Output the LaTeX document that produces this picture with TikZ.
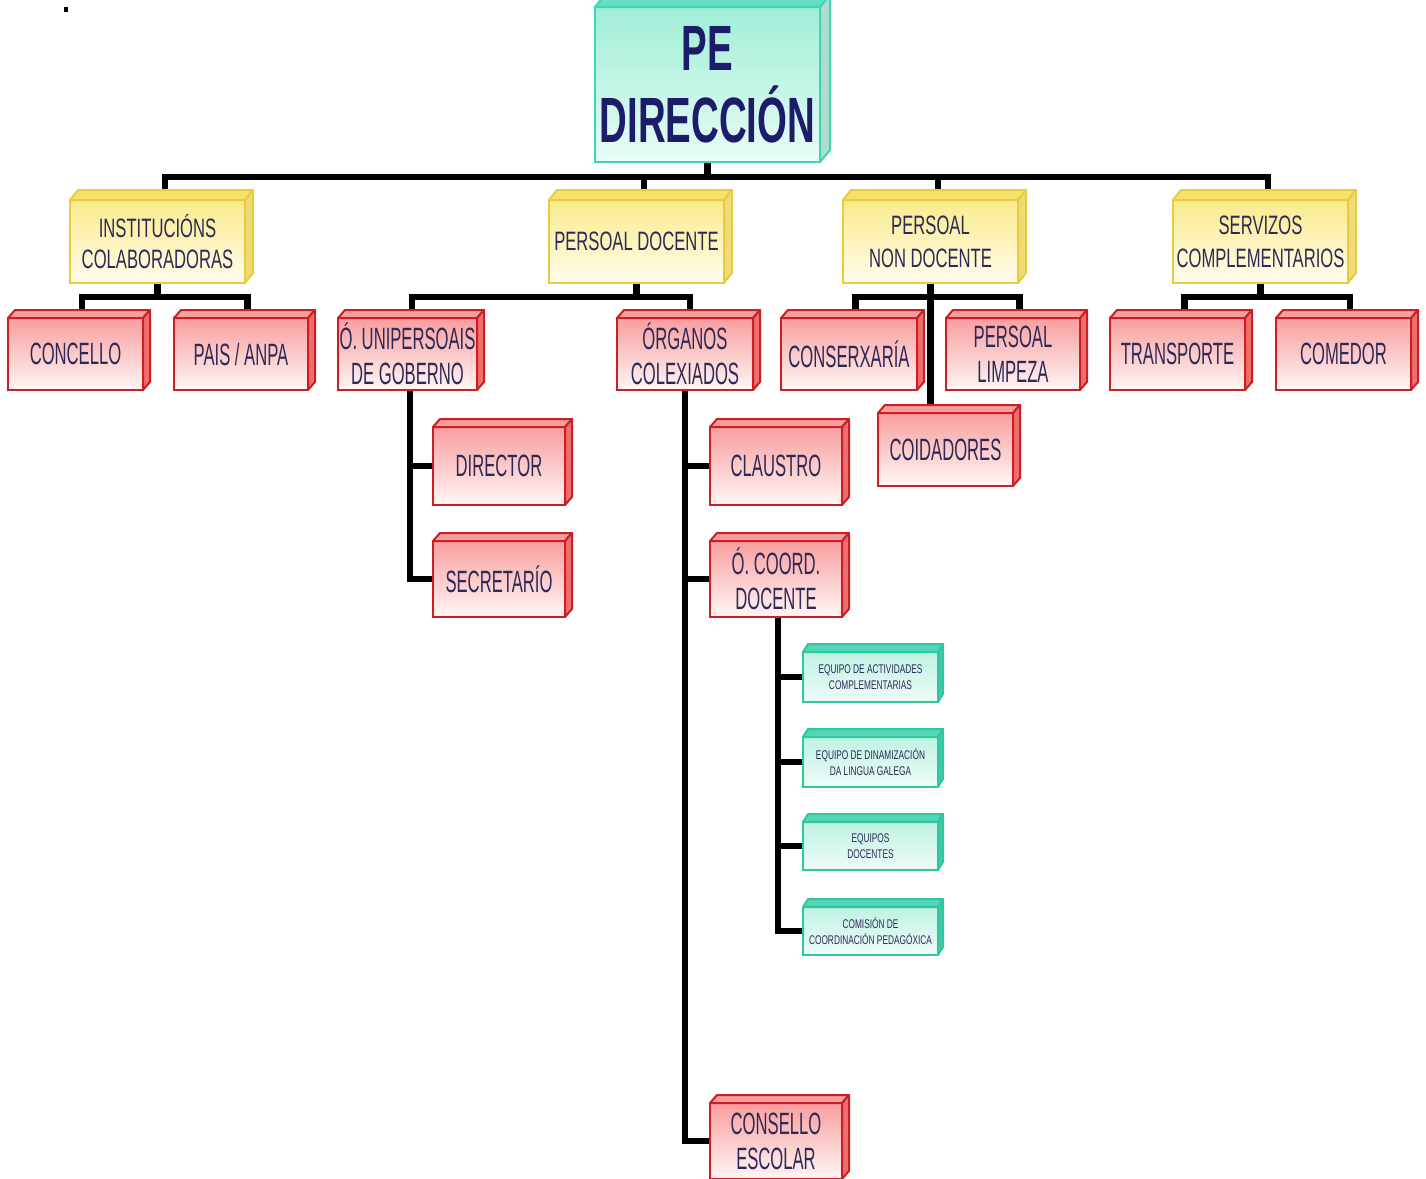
\documentclass[tikz,border=0pt]{standalone}
\usepackage{fontspec}
\setmainfont{Liberation Sans}
\newfontfamily\redfont[FakeStretch=0.54]{Liberation Sans}
\newfontfamily\yelfont[FakeStretch=0.625]{Liberation Sans}
\newfontfamily\tealfont[FakeStretch=0.66]{Liberation Sans}
\newfontfamily\pefont[FakeStretch=0.6]{Liberation Sans}
\usetikzlibrary{backgrounds}
\definecolor{txt}{RGB}{45,42,85}
\definecolor{petxt}{RGB}{28,28,105}
\definecolor{redbd}{RGB}{205,30,35}
\definecolor{redtop}{RGB}{245,160,160}
\definecolor{redside}{RGB}{236,110,110}
\definecolor{redA}{RGB}{248,158,158}
\definecolor{redB}{RGB}{253,222,222}
\definecolor{redC}{RGB}{255,246,246}
\definecolor{yelbd}{RGB}{232,204,64}
\definecolor{yeltop}{RGB}{248,226,110}
\definecolor{yelside}{RGB}{240,218,120}
\definecolor{yelA}{RGB}{251,234,140}
\definecolor{yelB}{RGB}{255,248,205}
\definecolor{yelC}{RGB}{255,253,236}
\definecolor{tealbd}{RGB}{48,198,160}
\definecolor{tealtop}{RGB}{84,214,182}
\definecolor{tealside}{RGB}{66,200,168}
\definecolor{tealA}{RGB}{190,242,226}
\definecolor{tealB}{RGB}{238,252,248}
\definecolor{pebd}{RGB}{60,214,180}
\definecolor{petop}{RGB}{100,222,194}
\definecolor{peside}{RGB}{176,220,204}
\definecolor{peA}{RGB}{160,238,215}
\definecolor{peB}{RGB}{232,252,246}
\tikzset{
  face/.style={draw, line width=1pt, inner sep=0pt, outer sep=0pt, align=center, text=txt},
  redface/.style={face, draw=redbd, top color=redA, middle color=redB, bottom color=redC,
    font=\redfont\fontsize{15.4}{17.5}\selectfont},
  redtop/.style={fill=redtop, draw=redbd, line width=1pt, line join=round},
  redside/.style={fill=redside, draw=redbd, line width=1pt, line join=round},
  yelface/.style={face, draw=yelbd, top color=yelA, middle color=yelB, bottom color=yelC,
    font=\yelfont\fontsize{13.3}{16.5}\selectfont},
  yeltop/.style={fill=yeltop, draw=yelbd, line width=1pt, line join=round},
  yelside/.style={fill=yelside, draw=yelbd, line width=1pt, line join=round},
  tealface/.style={face, draw=tealbd, top color=tealA, bottom color=tealB,
    font=\tealfont\fontsize{6.3}{8}\selectfont},
  tealtop/.style={fill=tealtop, draw=tealbd, line width=1pt, line join=round},
  tealside/.style={fill=tealside, draw=tealbd, line width=1pt, line join=round},
  peface/.style={face, draw=pebd, top color=peA, bottom color=peB, text=petxt,
    font=\pefont\bfseries\fontsize{32}{36}\selectfont},
  petop/.style={fill=petop, draw=pebd, line width=1pt, line join=round},
  peside/.style={fill=peside, draw=pebd, line width=1pt, line join=round},
  conn/.style={line width=3.3pt, black, line join=miter},
}
% #1 name #2 x1 #3 y1 #4 x2 #5 y2 #6 dx #7 dy #8 kind #9 text
\newcommand{\cubebox}[9]{%
  \pgfmathsetmacro\cbw{(#4-#2)/2}%
  \pgfmathsetmacro\cbh{(#5-#3)/2}%
  \pgfmathsetmacro\cbcx{(#2+#4)/2}%
  \pgfmathsetmacro\cbcy{(#3+#5)/2}%
  \node[#8face, minimum width=\cbw pt, minimum height=\cbh pt] (#1) at (\cbcx,\cbcy) {#9};
  \filldraw[#8top] (#1.north west) -- ++(#6,-#7) -- ++(#4-#2,0) -- (#1.north east) -- cycle;
  \filldraw[#8side] (#1.north east) -- ++(#6,-#7) -- ++(0,#5-#3) -- (#1.south east) -- cycle;
}
\begin{document}
\begin{tikzpicture}[x=0.5pt,y=-0.5pt]
\useasboundingbox (0,0) rectangle (1426,1179);
\clip (0,0) rectangle (1426,1179);
\fill[black] (64,7) rectangle (68,12);

% top
\cubebox{pe}{595}{7}{820}{162}{10}{12}{pe}{PE\\DIRECCIÓN}
% level 1
\cubebox{inst}{70}{200}{245}{283}{8}{10}{yel}{\raisebox{-3pt}{\shortstack{INSTITUCIÓNS\\[3pt]COLABORADORAS}}}
\cubebox{pd}{549}{200}{724}{283}{8}{10}{yel}{PERSOAL DOCENTE}
\cubebox{pnd}{843}{200}{1018}{283}{8}{10}{yel}{PERSOAL\\NON DOCENTE}
\cubebox{sc}{1173}{200}{1348}{283}{8}{10}{yel}{SERVIZOS\\COMPLEMENTARIOS}
% level 2
\cubebox{concello}{8}{318}{143}{390}{7}{8}{red}{CONCELLO}
\cubebox{pais}{174}{318}{308}{390}{7}{8}{red}{PAIS / ANPA}
\cubebox{unip}{338}{318}{477}{390}{7}{8}{red}{Ó. UNIPERSOAIS\\DE GOBERNO}
\cubebox{org}{617}{318}{753}{390}{7}{8}{red}{ÓRGANOS\\COLEXIADOS}
\cubebox{cons}{781}{318}{917}{390}{7}{8}{red}{CONSERXARÍA}
\cubebox{limp}{946}{318}{1080}{390}{7}{8}{red}{PERSOAL\\LIMPEZA}
\cubebox{trans}{1110}{318}{1245}{390}{7}{8}{red}{TRANSPORTE}
\cubebox{comedor}{1276}{318}{1411}{390}{7}{8}{red}{COMEDOR}
\cubebox{coid}{878}{413}{1013}{486}{7}{8}{red}{COIDADORES}
% level 3
\cubebox{director}{433}{427}{565}{505}{7}{8}{red}{DIRECTOR}
\cubebox{secret}{433}{541}{565}{617}{7}{8}{red}{SECRETARÍO}
\cubebox{claustro}{710}{427}{842}{505}{7}{8}{red}{CLAUSTRO}
\cubebox{coord}{710}{541}{842}{617}{7}{8}{red}{Ó. COORD.\\DOCENTE}
\cubebox{consello}{710}{1103}{842}{1179}{7}{8}{red}{CONSELLO\\ESCOLAR}
% teal
\cubebox{t1}{803}{652}{938}{702}{5}{8}{teal}{EQUIPO DE ACTIVIDADES\\COMPLEMENTARIAS}
\cubebox{t2}{803}{737}{938}{787}{5}{8}{teal}{EQUIPO DE DINAMIZACIÓN\\DA LINGUA GALEGA}
\cubebox{t3}{803}{822}{938}{870}{5}{8}{teal}{EQUIPOS\\DOCENTES}
\cubebox{t4}{803}{907}{938}{955}{5}{8}{teal}{COMISIÓN DE\\COORDINACIÓN PEDAGÓXICA}

\begin{pgfonlayer}{background}
  % main bus
  \draw[conn] (pe.south) -- ++(0,15);
  \draw[conn] ([xshift=3.75pt]inst.north) -- ++(0,-23) -| ([xshift=3.75pt]sc.north);
  \draw[conn] ([xshift=3.75pt]pd.north) -- ++(0,-23);
  \draw[conn] ([xshift=3.75pt]pnd.north) -- ++(0,-23);
  % institucions
  \draw[conn] (inst.south) -- ++(0,14);
  \draw[conn] ([xshift=3.25pt]concello.north) -- ++(0,-21) -| ([xshift=3.25pt]pais.north);
  % persoal docente
  \draw[conn] (pd.south) -- ++(0,14);
  \draw[conn] ([xshift=2.25pt]unip.north) -- ++(0,-21) -| ([xshift=2.5pt]org.north);
  % persoal non docente
  \draw[conn] (pnd.south) -- (pnd.south |- coid.north);
  \draw[conn] ([xshift=3.25pt]cons.north) -- ++(0,-21) -| ([xshift=3.25pt]limp.north);
  % servizos
  \draw[conn] (sc.south) -- ++(0,14);
  \draw[conn] ([xshift=3.5pt]trans.north) -- ++(0,-21) -| ([xshift=3.25pt]comedor.north);
  % unipersoais
  \draw[conn] ([xshift=1.25pt]unip.south) |- (secret.west);
  \draw[conn] (director.west) -| ([xshift=1.25pt]unip.south);
  % colexiados
  \draw[conn] (org.south) |- (consello.west);
  \draw[conn] (claustro.west) -| (org.south);
  \draw[conn] (coord.west) -| (org.south);
  % coord docente
  \draw[conn] ([xshift=1pt]coord.south) |- (t4.west);
  \draw[conn] (t1.west) -| ([xshift=1pt]coord.south);
  \draw[conn] (t2.west) -| ([xshift=1pt]coord.south);
  \draw[conn] (t3.west) -| ([xshift=1pt]coord.south);
\end{pgfonlayer}
\end{tikzpicture}
\end{document}
